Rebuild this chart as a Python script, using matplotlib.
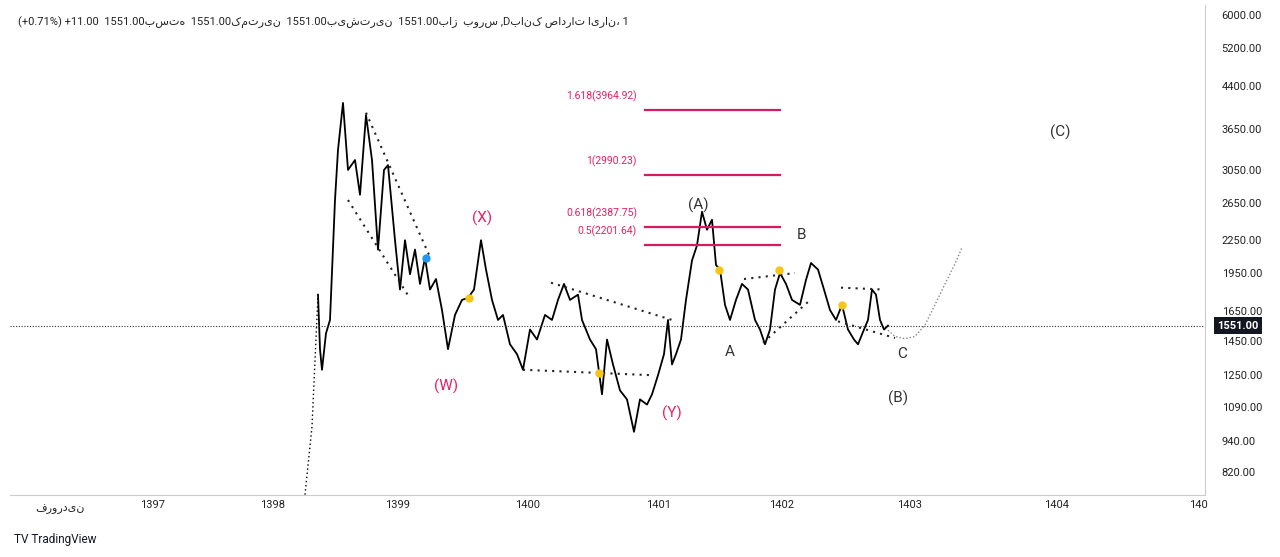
import matplotlib
matplotlib.use("Agg")
import matplotlib.pyplot as plt
from matplotlib.ticker import NullLocator, FixedLocator

plt.rcParams['font.family'] = ['Roboto', 'DejaVu Sans']

# price path (x = chart column, price in rial)
px = [305, 312, 318, 320, 322, 326, 330, 335, 338, 343, 348, 355, 360, 366, 372, 378, 384, 388,
      395, 400, 405, 410, 415, 420, 425, 430, 436, 442, 448, 455, 462, 468, 474, 481, 486, 492,
      498, 503, 510, 517, 523, 530, 537, 545, 552, 558, 564, 570, 578, 582, 590, 596, 602, 607,
      613, 620, 627, 634, 640, 647, 652, 658, 664, 668, 672, 676, 681, 686, 692, 697, 702, 707,
      712, 716, 720, 725, 730, 736, 742, 748, 755, 760, 765, 770, 775, 780, 786, 792, 800, 806,
      811, 818, 824, 830, 836, 842, 848, 854, 858, 864, 868, 872, 876, 880, 884, 888]
price = [743, 1000, 1775, 1400, 1280, 1500, 1590, 2680, 3335, 4090, 3055, 3190, 2742, 3880,
         3190, 2160, 3055, 3120, 2250, 1815, 2250, 1940, 2160, 1860, 2085, 1815, 1900, 1660,
         1400, 1625, 1735, 1750, 1815, 2250, 1980, 1735, 1590, 1625, 1430, 1370, 1280, 1525,
         1460, 1625, 1590, 1735, 1860, 1735, 1775, 1590, 1460, 1400, 1150, 1460, 1310, 1170,
         1125, 977, 1125, 1100, 1150, 1250, 1370, 1590, 1310, 1370, 1460, 1735, 2060, 2200,
         2547, 2355, 2460, 2020, 1980, 1698, 1590, 1735, 1860, 1815, 1590, 1525, 1430, 1525,
         1815, 1950, 1860, 1735, 1698, 1893, 2037, 1980, 1815, 1660, 1590, 1698, 1525, 1460,
         1430, 1525, 1590, 1815, 1775, 1590, 1525, 1551]

# projected path (dotted)
proj_x = [888, 895, 905, 915, 925, 935, 945, 955, 962]
proj_p = [1520, 1480, 1465, 1480, 1555, 1700, 1860, 2030, 2180]

# dotted channel / triangle lines
trend_lines = [
    ([348, 408], [2680, 1770]),
    ([366, 430], [3920, 2090]),
    ([551, 672], [1870, 1590]),
    ([523, 652], [1280, 1250]),
    ([744, 795], [1900, 1950]),
    ([763, 808], [1440, 1720]),
    ([841, 884], [1830, 1815]),
    ([838, 895], [1580, 1470]),
]

fib_levels = [3964.92, 2990.23, 2387.75, 2201.64]
fib_labels = ['1.618(3964.92)', '1(2990.23)', '0.618(2387.75)', '0.5(2201.64)']

markers = [(426, 2085, '#2196f3'), (469, 1750, '#f5c518'), (599, 1260, '#f5c518'),
           (719, 1975, '#f5c518'), (779, 1975, '#f5c518'), (842, 1700, '#f5c518')]

wave_labels = [(482, 2480, '(X)', '#e91e63'), (446, 1190, '(W)', '#e91e63'),
               (672, 1060, '(Y)', '#e91e63'), (698, 2620, '(A)', '#333333'),
               (802, 2300, 'B', '#333333'), (730, 1380, 'A', '#333333'),
               (902, 1370, 'C', '#333333'), (898, 1130, '(B)', '#333333'),
               (1060, 3600, '(C)', '#333333')]

yticks = [6000, 5200, 4400, 3650, 3050, 2650, 2250, 1950, 1650, 1450, 1250, 1090, 940, 820]
xtick_pos = [153, 273, 398, 528, 659, 782, 910, 1057, 1198]
xtick_lab = ['1397', '1398', '1399', '1400', '1401', '1402', '1403', '1404', '140']
last_price = 1551

fig = plt.figure(figsize=(12.8, 5.57), dpi=100)
ax = fig.add_axes([10 / 1280, 62 / 557, 1195 / 1280, 490 / 557])
ax.set_yscale('log')
ax.set_xlim(10, 1205)
ax.set_ylim(742, 6265)

ax.plot(px[:3], price[:3], color='black', lw=1, ls=(0, (1, 2)))
ax.plot(px[2:], price[2:], color='black', lw=1.3)
ax.plot(proj_x, proj_p, color='#888888', lw=1, ls=(0, (1, 1.5)))
for xs, ys in trend_lines:
    ax.plot(xs, ys, color='#222222', lw=1.5, ls=(0, (1, 2.5)))
for lv, lb in zip(fib_levels, fib_labels):
    ax.plot([645, 780], [lv, lv], color='#d81b60', lw=1.6)
    ax.text(637, lv * 1.035, lb, color='#e91e63', fontsize=7.5, ha='right', va='bottom')
for mx, my, mc in markers:
    ax.plot(mx, my, 'o', color=mc, ms=5)
for lx, ly, lt, lc in wave_labels:
    ax.text(lx, ly, lt, color=lc, fontsize=11, ha='center', va='center')

ax.axhline(last_price, color='#333333', lw=0.8, ls=(0, (1, 1.5)))

ax.yaxis.tick_right()
ax.yaxis.set_major_locator(FixedLocator(yticks))
ax.yaxis.set_minor_locator(NullLocator())
ax.set_yticklabels([f'{v:.2f}' for v in yticks])
ax.set_xticks(xtick_pos)
ax.set_xticklabels(xtick_lab)
ax.tick_params(length=0, labelsize=8, colors='#222222')
ax.tick_params(axis='y', pad=12)
for s in ['top', 'left']:
    ax.spines[s].set_visible(False)
for s in ['right', 'bottom']:
    ax.spines[s].set_color('#cccccc')
ax.text(1238, last_price, f'{last_price:.2f}', transform=ax.transData, fontsize=8,
        color='white', ha='center', va='center', fontweight='bold', clip_on=False,
        bbox=dict(boxstyle='square,pad=0.3', fc='#131722', ec='none'))

fig.text(60 / 1280, 1 - 509 / 557, 'فروردین', fontsize=8, ha='center', va='center',
         color='#222222')
fig.text(18 / 1280, 1 - 22 / 557,
         '(+0.71%) +11.00  1551.00بسته  1551.00کمترین  1551.00بیشترین  1551.00باز  بورس ,Dبانک صادرات ایران، 1',
         fontsize=8, ha='left', va='center', color='#222222')
fig.text(14 / 1280, 1 - 540 / 557, 'TV TradingView', fontsize=8.5, ha='left', va='center',
         color='#131722')

fig.savefig('out.png', dpi=100)
